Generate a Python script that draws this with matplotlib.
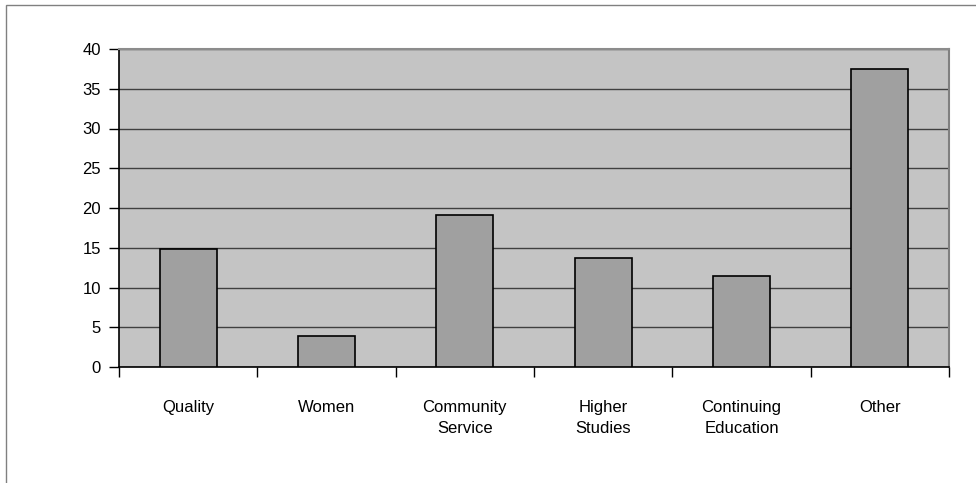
import matplotlib
matplotlib.use("Agg")
import matplotlib.pyplot as plt
from matplotlib.patches import Rectangle
import numpy as np

categories = ["Quality", "Women", "Community\nService", "Higher\nStudies", "Continuing\nEducation", "Other"]
values = [14.8, 3.9, 19.1, 13.7, 11.4, 37.5]
yticks = [0, 5, 10, 15, 20, 25, 30, 35, 40]

plt.rcParams['font.family'] = ['Liberation Sans', 'DejaVu Sans']

fig = plt.figure(figsize=(9.76, 4.83), dpi=100)
W, H = 976, 483
# outer frame
fig.patches.append(Rectangle((6 / W, -0.1), 1.2, 1 - 5 / H + 0.1, transform=fig.transFigure,
                             fill=False, edgecolor='#808080', linewidth=1.0))

left, right, top, bottom = 119, 949, 49, 367
ax = fig.add_axes([left / W, 1 - bottom / H, (right - left) / W, (bottom - top) / H])
ax.set_facecolor('#C4C4C4')

x = np.arange(len(categories))
ax.bar(x, values, width=0.41, color='#A0A0A0', edgecolor='black', linewidth=1.2, zorder=3)

ax.set_xlim(-0.5, len(categories) - 0.5)
ax.set_ylim(0, 40)
ax.set_yticks(yticks)
ax.set_yticklabels([str(v) for v in yticks], fontsize=12)
ax.yaxis.grid(True, color='#404040', linewidth=1.0, zorder=1)
ax.set_axisbelow(True)

ax.set_xticks(np.arange(len(categories) + 1) - 0.5)
ax.set_xticklabels([])
ax.set_xticks(x, minor=True)
ax.set_xticklabels(categories, minor=True, fontsize=12, linespacing=1.5)
ax.tick_params(axis='x', which='minor', length=0, pad=24)
ax.tick_params(axis='x', which='major', length=7, direction='out', color='black', width=1)
ax.tick_params(axis='y', length=7, direction='out', color='black', width=1, pad=6)

ax.spines['left'].set_color('black')
ax.spines['bottom'].set_color('black')
ax.spines['left'].set_linewidth(1.2)
ax.spines['bottom'].set_linewidth(1.2)
ax.spines['top'].set_color('#8C8C8C')
ax.spines['right'].set_color('#808080')
ax.spines['top'].set_linewidth(1.5)
ax.spines['right'].set_linewidth(1.5)

fig.savefig("out.png", dpi=100)
